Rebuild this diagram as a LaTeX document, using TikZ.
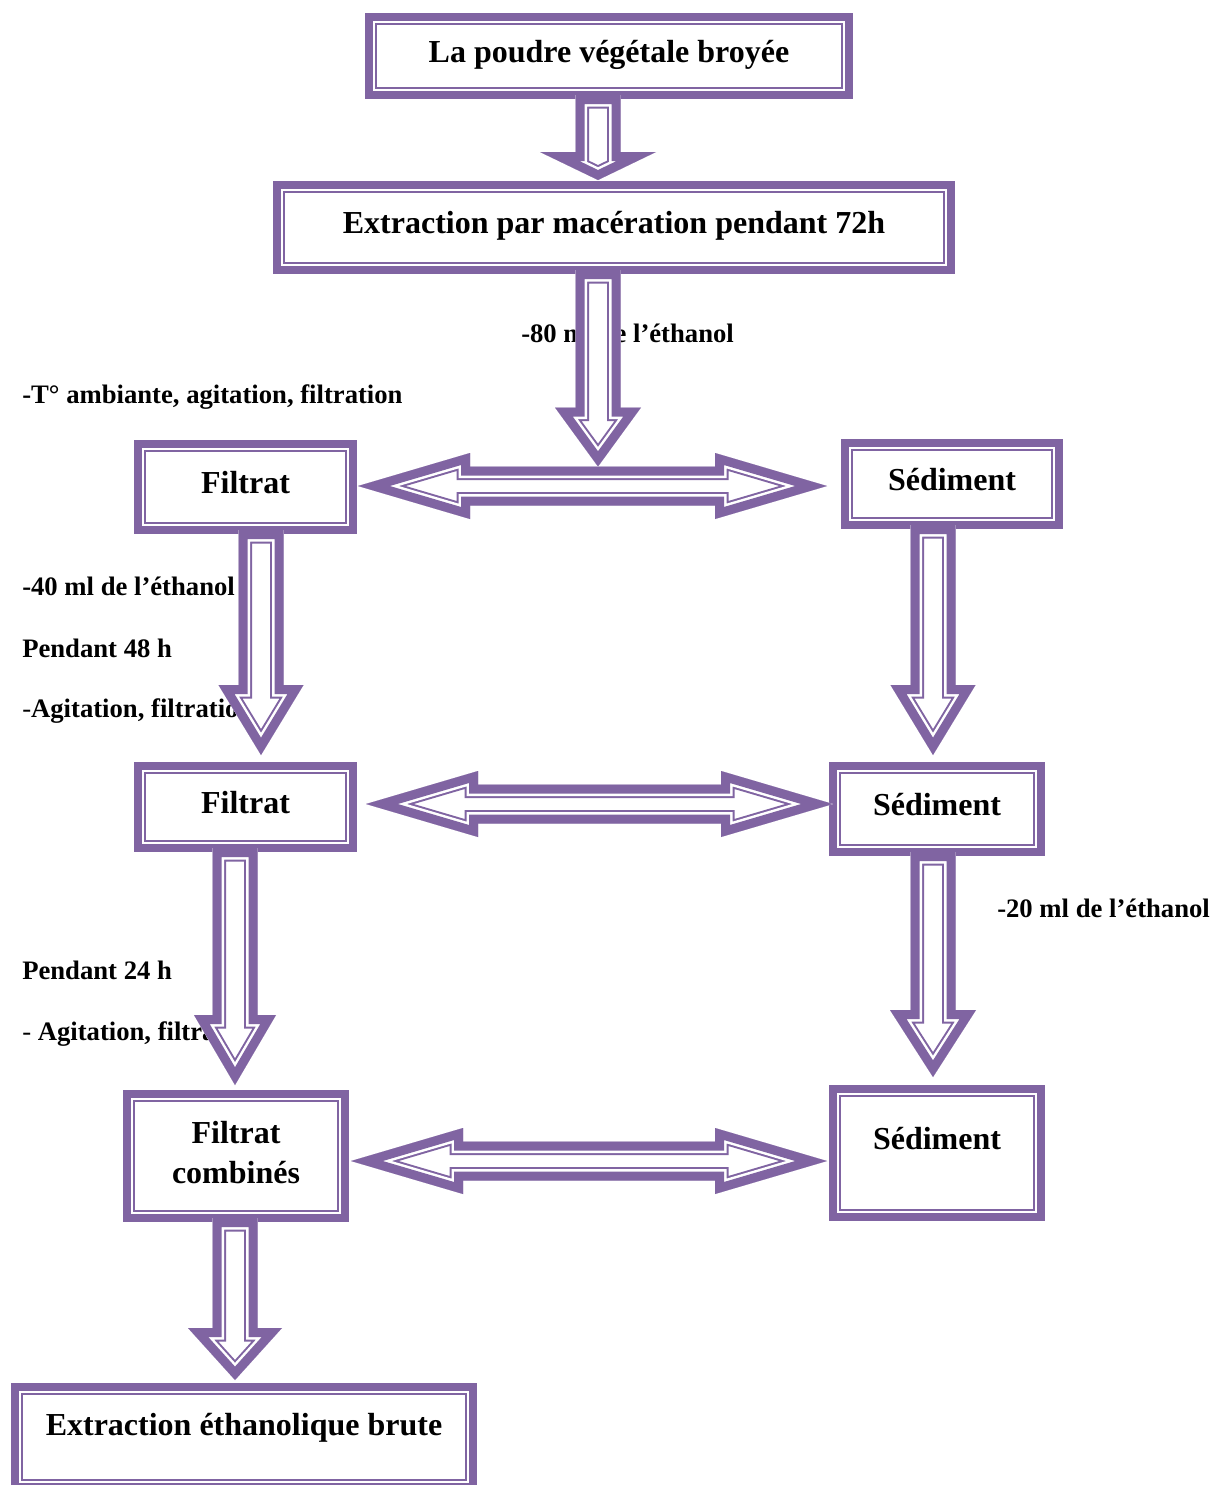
\documentclass[tikz,border=0pt]{standalone}
\usepackage{fontspec}
\setmainfont{Liberation Serif}
\usetikzlibrary{calc}
\definecolor{violet4}{HTML}{8064A2}
\newcommand{\upx}{0.75pt}
% fleche creuse : trait epais, filet blanc, trait fin
\newcommand{\bloc}[1]{%
  \begin{scope}
    \clip #1;
    \fill[white] #1;
    \draw[violet4, line width=20.25pt, line join=miter] #1;
    \draw[white, line width=17.25pt, line join=miter] #1;
    \draw[violet4, line width=13.5pt, line join=miter] #1;
  \end{scope}}
% #1 depart, #2 arrivee, #3 x (px), #4 demi-tete, #5 long. tete, #6 ecart pointe
\newcommand{\flecheV}[6]{%
  \path let \p1=#1, \p2=#2, \p3=(#3,0) in
    coordinate (v1) at ({\x3-22.5*\upx}, {\y1})
    coordinate (v2) at ({\x3+22.5*\upx}, {\y1})
    coordinate (v3) at ({\x3+22.5*\upx}, {\y2+(#5+#6)*\upx})
    coordinate (v4) at ({\x3+#4*\upx}, {\y2+(#5+#6)*\upx})
    coordinate (v5) at ({\x3}, {\y2+#6*\upx})
    coordinate (v6) at ({\x3-#4*\upx}, {\y2+(#5+#6)*\upx})
    coordinate (v7) at ({\x3-22.5*\upx}, {\y2+(#5+#6)*\upx});
  \bloc{(v1)--(v2)--(v3)--(v4)--(v5)--(v6)--(v7)--cycle}}
% #1 gauche, #2 droite, #3 decalage y (px), #4 ecart gauche, #5 ecart droite
\newcommand{\flecheH}[5]{%
  \path let \p1=#1, \p2=#2 in
    coordinate (h1) at ({\x1+(#4)*\upx}, {\y1-(#3)*\upx})
    coordinate (h2) at ({\x1+(#4+112)*\upx}, {\y1+(33-(#3))*\upx})
    coordinate (h3) at ({\x1+(#4+112)*\upx}, {\y1+(19.5-(#3))*\upx})
    coordinate (h4) at ({\x2-(#5+112)*\upx}, {\y1+(19.5-(#3))*\upx})
    coordinate (h5) at ({\x2-(#5+112)*\upx}, {\y1+(33-(#3))*\upx})
    coordinate (h6) at ({\x2-(#5)*\upx}, {\y1-(#3)*\upx})
    coordinate (h7) at ({\x2-(#5+112)*\upx}, {\y1-(33+(#3))*\upx})
    coordinate (h8) at ({\x2-(#5+112)*\upx}, {\y1-(19.5+(#3))*\upx})
    coordinate (h9) at ({\x1+(#4+112)*\upx}, {\y1-(19.5+(#3))*\upx})
    coordinate (h10) at ({\x1+(#4+112)*\upx}, {\y1-(33+(#3))*\upx});
  \bloc{(h1)--(h2)--(h3)--(h4)--(h5)--(h6)--(h7)--(h8)--(h9)--(h10)--cycle}}
\tikzset{
  cadre/.style={draw=violet4, line width=6pt, inner sep=0pt, outer sep=0pt,
    font=\fontsize{24}{30}\selectfont\bfseries, text height=15pt, text depth=6pt,
    path picture={\draw[violet4, line width=1.5pt]
      ([shift={(5.25pt,5.25pt)}]path picture bounding box.south west) rectangle
      ([shift={(-5.25pt,-5.25pt)}]path picture bounding box.north east);}},
  note/.style={anchor=base west, inner sep=0pt, font=\fontsize{20}{24}\selectfont\bfseries},
}
\begin{document}
\begin{tikzpicture}[x=0.75pt, y=-0.75pt]
\useasboundingbox (0,0) rectangle (1212,1485);
\clip (0,0) rectangle (1212,1485);
% conditions
\node[note] (n80) at (521,342) {-80 ml de l’éthanol};
\node[note] (nT) at (22,403) {-T° ambiante, agitation, filtration};
\node[note] (n40) at (22,595) {-40 ml de l’éthanol};
\node[note] (n48) at (22,657) {Pendant 48 h};
\node[note] (nAg1) at (22,717) {{\mdseries -}Agitation, filtration};
\node[note] (n24) at (22,979) {Pendant 24 h};
\node[note] (nAg2) at (22,1040) {{\mdseries -} Agitation, filtration};
\node[note] (n20) at (997,917) {-20 ml de l’éthanol};
% etapes
\node[cadre, minimum width=480*\upx, minimum height=78*\upx] (poudre) at (609,56) {La poudre végétale broyée};
\node[cadre, minimum width=674*\upx, minimum height=85*\upx] (macer) at (614,227.5) {Extraction par macération pendant 72h};
\node[cadre, minimum width=215*\upx, minimum height=86*\upx] (filtA) at (245.5,487) {Filtrat};
\node[cadre, minimum width=214*\upx, minimum height=82*\upx] (sedA) at (952,484) {Sédiment};
\node[cadre, minimum width=215*\upx, minimum height=82*\upx] (filtB) at (245.5,807) {Filtrat};
\node[cadre, minimum width=208*\upx, minimum height=86*\upx] (sedB) at (937,809) {Sédiment};
\node[cadre, minimum width=218*\upx, minimum height=124*\upx, align=center, text height=46.5pt] (filtC) at (236,1156) {Filtrat\\combinés};
\node[cadre, minimum width=208*\upx, minimum height=128*\upx, text depth=20.2pt] (sedC) at (937,1153) {Sédiment};
\node[cadre, minimum width=458*\upx, minimum height=100*\upx, text depth=17.9pt] (brute) at (244,1437) {Extraction éthanolique brute};
% fleches doubles
\flecheH{(filtA.east)}{(sedA.west)}{-1}{5}{18}
\flecheH{(filtB.east)}{(sedB.west)}{-3}{13}{0}
\flecheH{(filtC.east)}{(sedC.west)}{5}{6}{6}
% fleches descendantes
\flecheV{(poudre.south)}{(macer.north)}{598}{58}{28}{5}
\flecheV{(macer.south)}{(filtA.east)}{598}{43}{59}{20.5}
\flecheV{(filtA.south)}{(filtB.north)}{261}{42.5}{70}{11}
\flecheV{(sedA.south)}{(sedB.north)}{933}{42.5}{70}{11}
\flecheV{(filtB.south)}{(filtC.north)}{235}{41}{70}{9}
\flecheV{(sedB.south)}{(sedC.north)}{933}{43}{67}{12}
\flecheV{(filtC.south)}{(brute.north)}{235}{47}{52}{7}
\end{tikzpicture}
\end{document}
